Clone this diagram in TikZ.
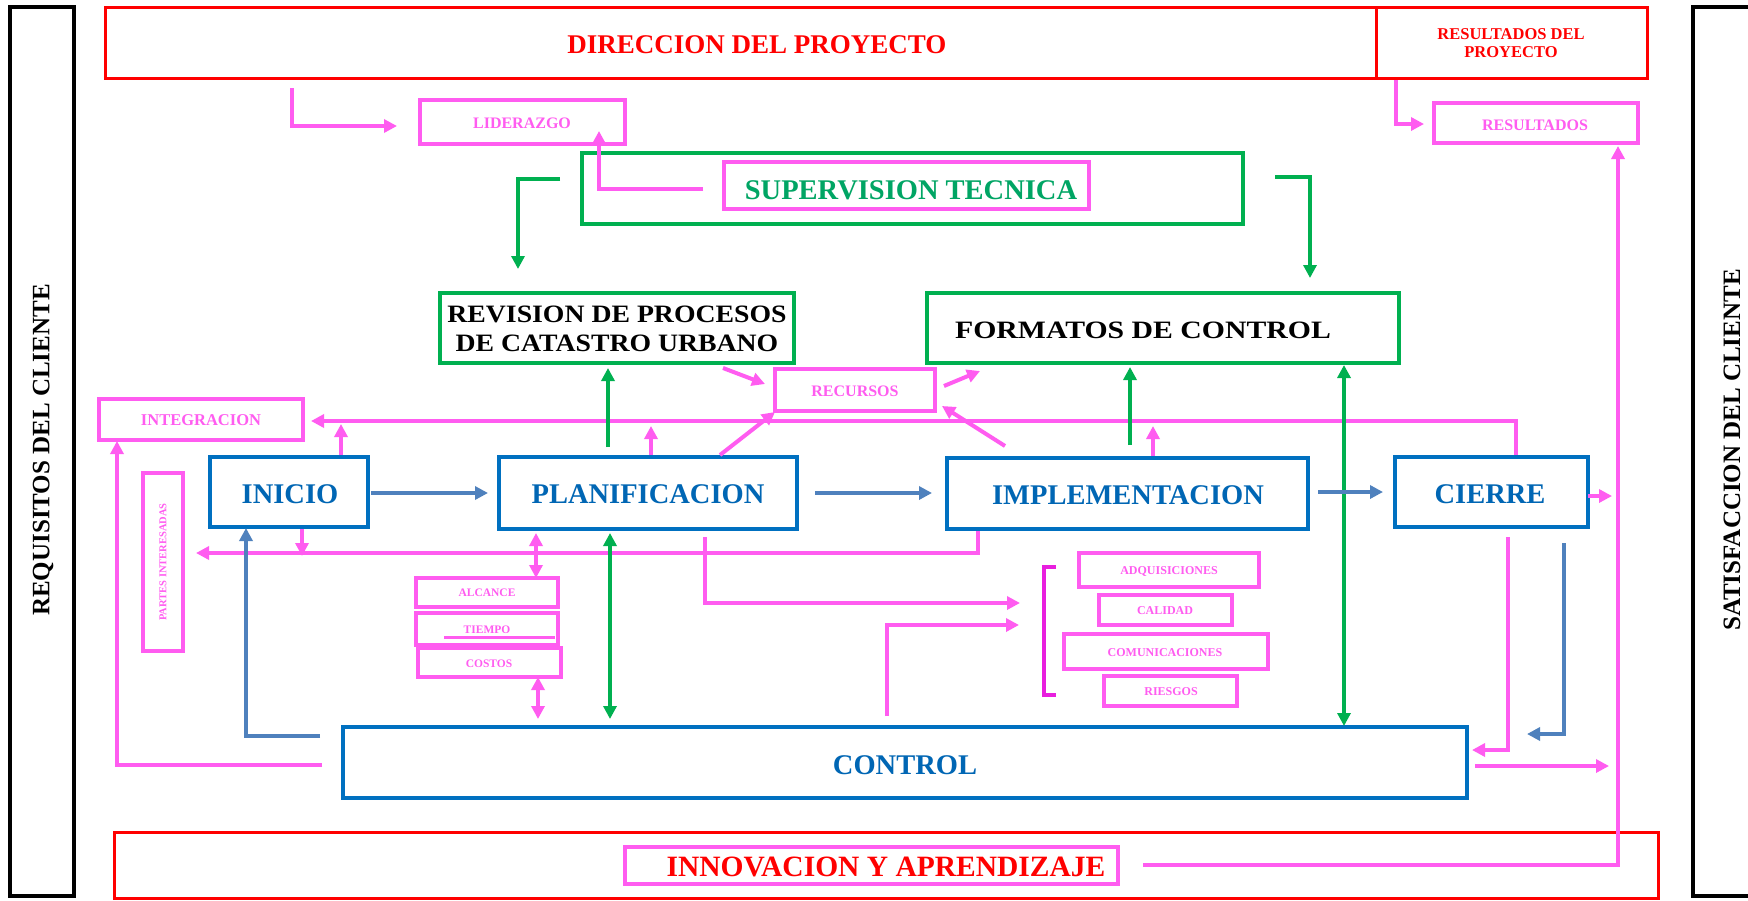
\documentclass[tikz,border=0pt]{standalone}
\usepackage{fontspec}
\usepackage{graphicx}
\setmainfont{Liberation Serif}
\usetikzlibrary{arrows.meta,fit}
\definecolor{redc}{RGB}{255,0,0}
\definecolor{pinkc}{RGB}{255,92,240}
\definecolor{brk}{RGB}{232,30,222}
\definecolor{greenc}{RGB}{0,176,80}
\definecolor{supg}{RGB}{0,165,100}
\definecolor{blueb}{RGB}{0,112,192}
\definecolor{bluet}{RGB}{0,102,180}
\definecolor{bluea}{RGB}{79,129,189}
\newcommand\myfs[2]{\fontsize{#1}{#2}\selectfont\bfseries}
\begin{document}
\begin{tikzpicture}[x=1pt,y=-1pt,
  box/.style={draw, inner sep=0pt, line width=4pt},
  redbox/.style={box, draw=redc, line width=3pt},
  blkbox/.style={box, draw=black, line width=3.5pt},
  pkbox/.style={box, draw=pinkc},
  grbox/.style={box, draw=greenc},
  blbox/.style={box, draw=blueb},
  txt/.style={inner sep=0pt, align=center},
  arr/.style={-{Triangle[length=13pt,width=13pt]}, line width=4pt},
  darr/.style={{Triangle[length=13pt,width=13pt]}-{Triangle[length=13pt,width=13pt]}, line width=4pt},
  pk/.style={draw=pinkc}, gr/.style={draw=greenc}, bl/.style={draw=bluea}]
\useasboundingbox (0,0) rectangle (1748,900);
\fill[white] (0,0) rectangle (1748,900);

% ---------- boxes ----------
\node[blkbox, fit={(10,7)(74,896)}] (req) {};
\node[blkbox, fit={(1693,7)(1800,896)}] (sat) {};
\node[redbox, fit={(105,7)(1376,78)}] (dir) {};
\node[redbox, fit={(1376,7)(1647,78)}] (resp) {};
\node[pkbox, fit={(420,100)(625,144)}] (lid) {};
\node[pkbox, fit={(1434,103)(1638,143)}] (resu) {};
\node[grbox, fit={(582,153)(1243,224)}] (sup) {};
\node[pkbox, fit={(724,162)(1089,209)}] (supk) {};
\node[grbox, fit={(440,293)(794,363)}] (rev) {};
\node[grbox, fit={(927,293)(1399,363)}] (fmt) {};
\node[pkbox, fit={(775,369)(935,411)}] (rec) {};
\node[pkbox, fit={(99,399)(303,440)}] (integ) {};
\node[pkbox, fit={(143,473)(183,651)}] (partes) {};
\node[blbox, fit={(210,457)(368,527)}] (ini) {};
\node[blbox, fit={(499,457)(797,529)}] (plan) {};
\node[blbox, fit={(947,458)(1308,529)}] (impl) {};
\node[blbox, fit={(1395,457)(1588,527)}] (cie) {};
\node[pkbox, fit={(416,578)(558,607)}] (alc) {};
\node[pkbox, fit={(416,613)(558,645)}] (tie) {};
\node[pkbox, fit={(418,648)(561,677)}] (cos) {};
\node[pkbox, fit={(1079,553)(1259,587)}] (adq) {};
\node[pkbox, fit={(1099,595)(1232,625)}] (cal) {};
\node[pkbox, fit={(1064,634)(1268,669)}] (com) {};
\node[pkbox, fit={(1104,676)(1237,706)}] (rie) {};
\node[blbox, fit={(343,727)(1467,798)}] (ctl) {};
\node[redbox, fit={(114,832)(1658,898)}] (inn) {};
\node[pkbox, fit={(625,847)(1118,884)}] (innk) {};

% ---------- texts ----------
\node[txt, rotate=90, font=\myfs{25}{27}] at (43,450) {REQUISITOS DEL CLIENTE};
\node[txt, rotate=90, font=\myfs{25}{27}] at (1732,450) {SATISFACCION DEL CLIENTE};
\node[txt, font=\myfs{27}{30}, text=redc] at (757,45) {DIRECCION DEL PROYECTO};
\node[txt, font=\myfs{16.5}{18}, text=redc] at (1511,43) {RESULTADOS DEL\\PROYECTO};
\node[txt, font=\myfs{16}{18}, text=pinkc] at (522,123) {LIDERAZGO};
\node[txt, font=\myfs{16}{18}, text=pinkc] at (1535,125) {RESULTADOS};
\node[txt, font=\myfs{28.5}{30}, text=supg] at (911,190) {SUPERVISION TECNICA};
\node[txt] at (617,331) {\scalebox{1.11}[1]{\myfs{25}{29.5}\begin{tabular}{@{}c@{}}REVISION DE PROCESOS\\DE CATASTRO URBANO\end{tabular}}};
\node[txt] at (1143,330) {\scalebox{1.19}[1]{\myfs{25}{27}FORMATOS DE CONTROL}};
\node[txt, font=\myfs{16}{18}, text=pinkc] at (855,391) {RECURSOS};
\node[txt, font=\myfs{16.5}{18}, text=pinkc] at (201,420) {INTEGRACION};
\node[txt, rotate=90, font=\myfs{10.5}{12}, text=pinkc] at (163,562) {PARTES INTERESADAS};
\node[txt, font=\myfs{28.5}{30}, text=bluet] at (290,494) {INICIO};
\node[txt, font=\myfs{28.5}{30}, text=bluet] at (648,494) {PLANIFICACION};
\node[txt, font=\myfs{28.5}{30}, text=bluet] at (1128,495) {IMPLEMENTACION};
\node[txt, font=\myfs{28.5}{30}, text=bluet] at (1490,494) {CIERRE};
\node[txt, font=\myfs{28.5}{30}, text=bluet] at (905,765) {CONTROL};
\node[txt, font=\myfs{11.5}{13}, text=pinkc] at (487,593) {ALCANCE};
\node[txt, font=\myfs{11.5}{13}, text=pinkc] at (487,630) {TIEMPO};
\node[txt, font=\myfs{11.5}{13}, text=pinkc] at (489,664) {COSTOS};
\node[txt, font=\myfs{12}{13}, text=pinkc] at (1169,571) {ADQUISICIONES};
\node[txt, font=\myfs{12}{13}, text=pinkc] at (1165,611) {CALIDAD};
\node[txt, font=\myfs{12}{13}, text=pinkc] at (1165,653) {COMUNICACIONES};
\node[txt, font=\myfs{12}{13}, text=pinkc] at (1171,692) {RIESGOS};
\node[txt, font=\myfs{29.5}{31}, text=redc] at (886,867) {INNOVACION Y APRENDIZAJE};

% ---------- named coordinates ----------
\coordinate (a1) at (292,88);   \coordinate (a1b) at (292,126); \coordinate (a1e) at (397,126);
\coordinate (a2) at (703,189);  \coordinate (a2b) at (599,189); \coordinate (a2e) at (599,131);
\coordinate (a3) at (1396,80);  \coordinate (a3b) at (1396,124);\coordinate (a3e) at (1424,124);
\coordinate (a4) at (1143,865); \coordinate (a4b) at (1618,865);\coordinate (a4e) at (1618,146);
\coordinate (a5) at (1588,496); \coordinate (a5e) at (1612,496);
\coordinate (a6) at (1475,766); \coordinate (a6e) at (1609,766);
\coordinate (a7) at (1508,537); \coordinate (a7b) at (1508,750);\coordinate (a7e) at (1472,750);
\coordinate (a8) at (1516,455); \coordinate (a8b) at (1516,421);\coordinate (a8e) at (311,421);
\coordinate (a9) at (341,455);  \coordinate (a9e) at (341,424);
\coordinate (a10) at (651,455); \coordinate (a10e) at (651,426);
\coordinate (a11) at (1153,456);\coordinate (a11e) at (1153,426);
\coordinate (a12) at (720,455); \coordinate (a12e) at (775,412);
\coordinate (a13) at (1005,446);\coordinate (a13e) at (942,406);
\coordinate (a14) at (723,368); \coordinate (a14e) at (765,384);
\coordinate (a15) at (944,386); \coordinate (a15e) at (980,371);
\coordinate (a16) at (978,531); \coordinate (a16b) at (978,553);\coordinate (a16e) at (196,553);
\coordinate (a17) at (302,529); \coordinate (a17e) at (302,556);
\coordinate (a18) at (536,533); \coordinate (a18e) at (536,578);
\coordinate (a19) at (538,677); \coordinate (a19e) at (538,719);
\coordinate (a20) at (705,537); \coordinate (a20b) at (705,603);\coordinate (a20e) at (1020,603);
\coordinate (a21) at (887,716); \coordinate (a21b) at (887,625);\coordinate (a21e) at (1019,625);
\coordinate (a22) at (322,765); \coordinate (a22b) at (117,765);\coordinate (a22e) at (117,441);
\coordinate (u1) at (444,637);  \coordinate (u2) at (555,637);
\coordinate (k1) at (1056,567); \coordinate (k2) at (1044,567); \coordinate (k3) at (1044,695); \coordinate (k4) at (1056,695);
\coordinate (g1) at (560,179);  \coordinate (g1b) at (518,179); \coordinate (g1e) at (518,269);
\coordinate (g2) at (1275,177); \coordinate (g2b) at (1310,177);\coordinate (g2e) at (1310,278);
\coordinate (g3) at (608,447);  \coordinate (g3e) at (608,368);
\coordinate (g4) at (1130,445); \coordinate (g4e) at (1130,367);
\coordinate (g5) at (610,719);  \coordinate (g5e) at (610,533);
\coordinate (g6) at (1344,726); \coordinate (g6e) at (1344,365);
\coordinate (b1) at (371,493);  \coordinate (b1e) at (488,493);
\coordinate (b2) at (815,493);  \coordinate (b2e) at (932,493);
\coordinate (b3) at (1318,492); \coordinate (b3e) at (1383,492);
\coordinate (b4) at (320,736);  \coordinate (b4b) at (246,736); \coordinate (b4e) at (246,528);
\coordinate (b5) at (1564,543); \coordinate (b5b) at (1564,734);\coordinate (b5e) at (1527,734);

% ---------- pink connectors ----------
\draw[arr, pk] (a1) -- (a1b) -- (a1e);
\draw[arr, pk] (a2) -- (a2b) -- (a2e);
\draw[arr, pk] (a3) -- (a3b) -- (a3e);
\draw[arr, pk] (a4) -- (a4b) -- (a4e);
\draw[arr, pk] (a5) -- (a5e);
\draw[arr, pk] (a6) -- (a6e);
\draw[arr, pk] (a7) -- (a7b) -- (a7e);
\draw[arr, pk] (a8) -- (a8b) -- (a8e);
\draw[arr, pk] (a9) -- (a9e);
\draw[arr, pk] (a10) -- (a10e);
\draw[arr, pk] (a11) -- (a11e);
\draw[arr, pk] (a12) -- (a12e);
\draw[arr, pk] (a13) -- (a13e);
\draw[arr, pk] (a14) -- (a14e);
\draw[arr, pk] (a15) -- (a15e);
\draw[arr, pk] (a16) -- (a16b) -- (a16e);
\draw[arr, pk] (a17) -- (a17e);
\draw[darr, pk] (a18) -- (a18e);
\draw[darr, pk] (a19) -- (a19e);
\draw[arr, pk] (a20) -- (a20b) -- (a20e);
\draw[arr, pk] (a21) -- (a21b) -- (a21e);
\draw[arr, pk] (a22) -- (a22b) -- (a22e);
\draw[pk, line width=3pt] (u1) -- (u2);
\draw[draw=brk, line width=4pt] (k1) -- (k2) -- (k3) -- (k4);

% ---------- green connectors ----------
\draw[arr, gr] (g1) -- (g1b) -- (g1e);
\draw[arr, gr] (g2) -- (g2b) -- (g2e);
\draw[arr, gr] (g3) -- (g3e);
\draw[arr, gr] (g4) -- (g4e);
\draw[darr, gr] (g5) -- (g5e);
\draw[darr, gr] (g6) -- (g6e);

% ---------- blue connectors ----------
\draw[arr, bl] (b1) -- (b1e);
\draw[arr, bl] (b2) -- (b2e);
\draw[arr, bl] (b3) -- (b3e);
\draw[arr, bl] (b4) -- (b4b) -- (b4e);
\draw[arr, bl] (b5) -- (b5b) -- (b5e);
\end{tikzpicture}
\end{document}
